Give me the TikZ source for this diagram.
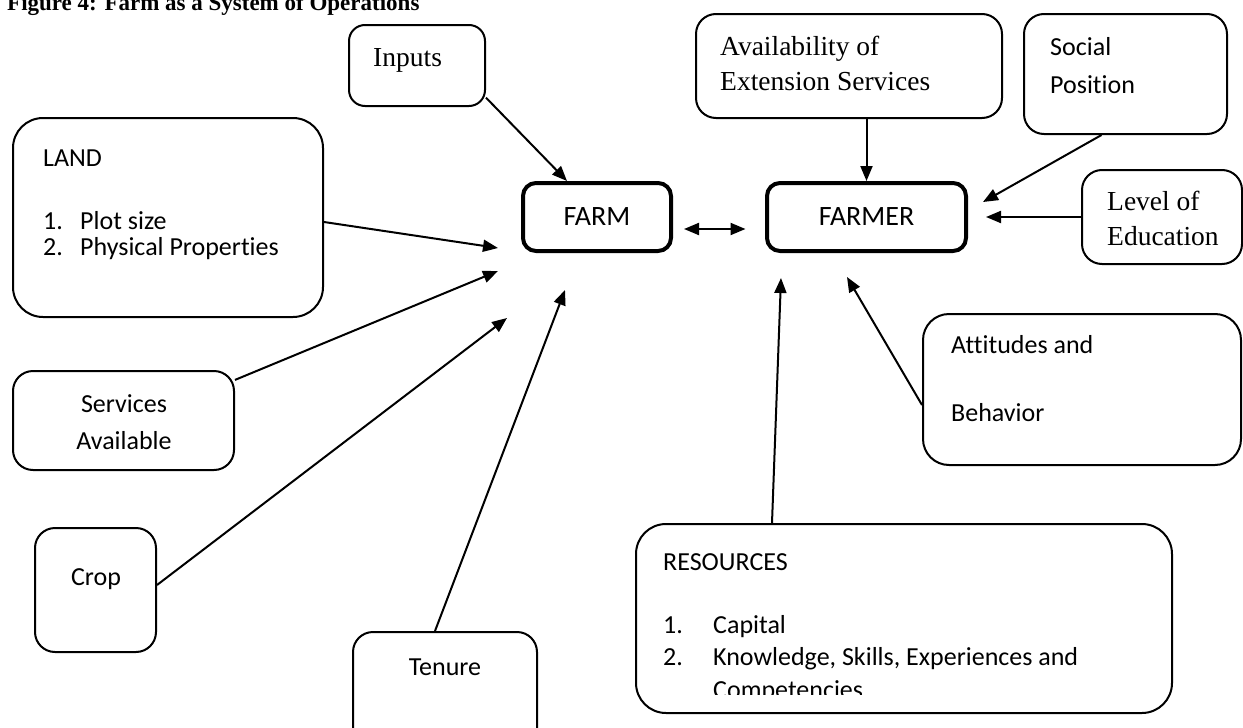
\documentclass[tikz,border=0pt]{standalone}
\usepackage{fontspec}
\setmainfont{Carlito}[Ligatures=NoCommon]
\newfontfamily\cambriaface{Liberation Serif}
\usetikzlibrary{arrows.meta, positioning}

\begin{document}
\begin{tikzpicture}[x=1pt, y=-1pt,
    box/.style={draw, line width=2pt, rounded corners=20pt, inner sep=0pt},
    core/.style={draw, line width=4pt, rounded corners=13pt, inner sep=0pt,
                 minimum height=68pt, font=\fontsize{28}{34}\selectfont},
    txt/.style={anchor=base west, inner sep=0pt, font=\fontsize{26}{31}\selectfont},
    ctxt/.style={txt, anchor=base},
    stxt/.style={txt, font=\cambriaface\fontsize{27.5}{33}\selectfont},
    link/.style={-{Triangle[length=15pt, width=12pt]}, line width=2pt},
    dlink/.style={{Triangle[length=15pt, width=12pt]}-{Triangle[length=15pt, width=12pt]}, line width=2pt},
]
    \useasboundingbox (0,0) rectangle (1243,728);
    \clip (0,0) rectangle (1243,728);

    % title, cut off by the top edge
    \node[anchor=base west, inner sep=0pt, font=\cambriaface\bfseries\fontsize{23}{28}\selectfont] (title) at (7,10) {Figure 4: Farm as a System of Operations};

    % the two central boxes
    \node[core, minimum width=148pt] (farm) at (597,217) {FARM};
    \node[core, minimum width=199pt] (farmer) at (866.5,217) {FARMER};
    \draw[dlink] ([xshift=11pt, yshift=-12pt]farm.east) -- ([xshift=-19.5pt, yshift=-12pt]farmer.west);

    % farm side
    \node[box, rounded corners=16pt, minimum width=136pt, minimum height=81pt] (inputs) at (417,65.5) {};
    \node[stxt] (inputsT) at (373,66) {Inputs};

    \node[box, rounded corners=30pt, minimum width=310pt, minimum height=199pt] (land) at (168,217.5) {};
    \node[txt] (landT) at (43,166) {LAND};
    \node[txt] (landA) at (43,229) {1.};
    \node[txt] (landAT) at (80,229) {Plot size};
    \node[txt] (landB) at (43,255) {2.};
    \node[txt] (landBT) at (80,255) {Physical Properties};

    \node[box, minimum width=221pt, minimum height=99pt] (services) at (123.5,420.5) {};
    \node[ctxt] (servicesA) at (124,412) {Services};
    \node[ctxt] (servicesB) at (124,449) {Available};

    \node[box, minimum width=121pt, minimum height=124pt] (crop) at (95.5,590) {};
    \node[ctxt] (cropT) at (96,585) {Crop};

    \node[box, minimum width=184pt, minimum height=150pt] (tenure) at (445,707) {};
    \node[ctxt] (tenureT) at (445,675) {Tenure};

    \coordinate (inTip) at (567,181);
    \coordinate (landTip) at (498,248);
    \coordinate (servTip) at (498,271);
    \coordinate (cropTip) at (507,318);
    \coordinate (tenTip) at (565,290);

    \draw[link] (inputs.-25) -- (inTip);
    \draw[link] ([yshift=-4.5pt]land.east) -- (landTip);
    \draw[link] (services.20) -- (servTip);
    \draw[link] ([yshift=5pt]crop.east) -- (cropTip);
    \draw[link] ([xshift=-10pt]tenure.north) -- (tenTip);

    % farmer side
    \node[box, minimum width=306pt, minimum height=104pt] (avail) at (849,66) {};
    \node[stxt] (availA) at (720,55) {Availability of};
    \node[stxt] (availB) at (720,90) {Extension Services};

    \node[box, minimum width=203pt, minimum height=120pt] (social) at (1125.5,74) {};
    \node[txt] (socialA) at (1050,55) {Social};
    \node[txt] (socialB) at (1050,93) {Position};

    \node[box, minimum width=160pt, minimum height=94pt] (level) at (1162,217) {};
    \node[stxt] (levelA) at (1107,210) {Level of};
    \node[stxt] (levelB) at (1107,245) {Education};

    \node[box, rounded corners=26pt, minimum width=318pt, minimum height=151pt] (attitude) at (1082,389.5) {};
    \node[txt] (attitudeA) at (951,353) {Attitudes and};
    \node[txt] (attitudeB) at (951,421) {Behavior};

    \node[box, rounded corners=30pt, minimum width=536pt, minimum height=189pt] (resources) at (904,618.5) {};
    \node[txt] (resourcesT) at (663,570) {RESOURCES};
    \node[txt] (resA) at (663,633) {1.};
    \node[txt] (resAT) at (713,633) {Capital};
    \node[txt] (resB) at (663,665) {2.};
    \node[txt] (resBT) at (713,665) {Knowledge, Skills, Experiences and};
    \begin{scope}
        \clip (636,524) rectangle (1172,694);
        \node[txt] (resCT) at (713,698) {Competencies};
    \end{scope}

    \coordinate (socTip) at (983,202);
    \coordinate (eduTip) at (986,217);
    \coordinate (attTip) at (847,277);
    \coordinate (resTip) at (781,278);

    \draw[link] (avail.south -| farmer.north) -- (farmer.north);
    \draw[link] ([xshift=-24pt]social.south) -- (socTip);
    \draw[link] (level.west) -- (eduTip);
    \draw[link] ([yshift=-15.5pt]attitude.west) -- (attTip);
    \draw[link] ([xshift=-132pt]resources.north) -- (resTip);
\end{tikzpicture}
\end{document}
